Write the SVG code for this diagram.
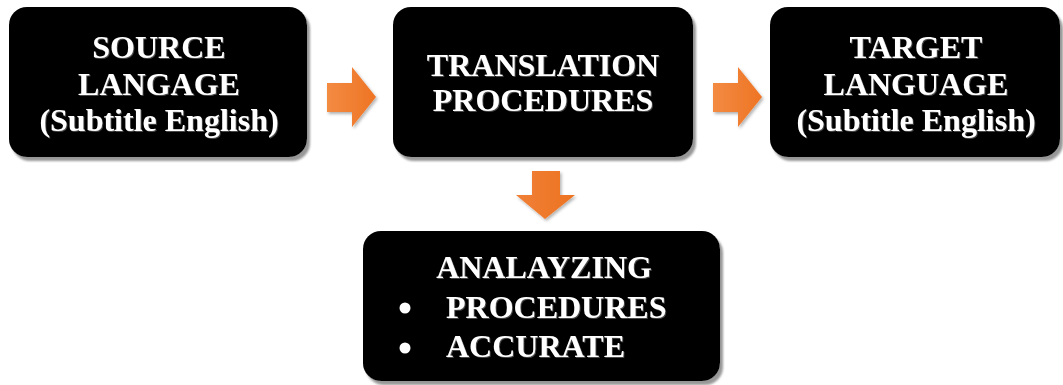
<svg xmlns="http://www.w3.org/2000/svg" width="1063" height="385" viewBox="0 0 1063 385">
  <defs>
    <filter id="boxShadow" x="-5%" y="-5%" width="115%" height="120%">
      <feDropShadow dx="3" dy="4" stdDeviation="0.8" flood-color="#8c8c8c" flood-opacity="0.9"/>
    </filter>
    <filter id="arrowShadow" x="-20%" y="-20%" width="150%" height="150%">
      <feDropShadow dx="1.5" dy="2" stdDeviation="1.5" flood-color="#000" flood-opacity="0.3"/>
    </filter>
    <filter id="textShadow" x="-5%" y="-20%" width="110%" height="140%">
      <feDropShadow dx="1" dy="1" stdDeviation="0.5" flood-color="#666" flood-opacity="0.7"/>
    </filter>
    <linearGradient id="orangeH" x1="0" y1="0" x2="1" y2="0">
      <stop offset="0" stop-color="#f38b42"/>
      <stop offset="1" stop-color="#ee7424"/>
    </linearGradient>
    <linearGradient id="orangeV" x1="0" y1="0" x2="1" y2="0">
      <stop offset="0" stop-color="#f08036"/>
      <stop offset="1" stop-color="#ed7322"/>
    </linearGradient>
  </defs>
  <style>
    .box { fill: #000; filter: url(#boxShadow); }
    .label { font-family: "Liberation Serif", "Times New Roman", serif; font-weight: bold; font-size: 32px; fill: #fff; filter: url(#textShadow); }
    .mid { text-anchor: middle; }
    .bullet { fill: #fff; }
  </style>

  <!-- connectors: block arrows between the stages -->
  <g id="connectors" filter="url(#arrowShadow)">
    <polygon points="327,83 352,83 352,67 376,97 352,127 352,112 327,112" fill="url(#orangeH)"/>
    <polygon points="713,83 738,83 738,67 762,97 738,127 738,112 713,112" fill="url(#orangeH)"/>
    <polygon points="532,171 560,171 560,195 575,195 545,219 516,195 532,195" fill="url(#orangeV)"/>
  </g>

  <g id="source">
    <rect class="box" x="9" y="7" width="298" height="150" rx="18"/>
    <text class="label mid" x="159" y="58">SOURCE</text>
    <text class="label mid" x="159" y="95">LANGAGE</text>
    <text class="label mid" x="159" y="131">(Subtitle English)</text>
  </g>

  <g id="translation">
    <rect class="box" x="393" y="7" width="300" height="150" rx="18"/>
    <text class="label mid" x="543" y="76">TRANSLATION</text>
    <text class="label mid" x="543" y="111">PROCEDURES</text>
  </g>

  <g id="target">
    <rect class="box" x="770" y="7" width="290" height="150" rx="18"/>
    <text class="label mid" x="916" y="58">TARGET</text>
    <text class="label mid" x="916" y="95">LANGUAGE</text>
    <text class="label mid" x="916" y="131">(Subtitle English)</text>
  </g>

  <g id="analyzing">
    <rect class="box" x="363" y="231" width="357" height="150" rx="18"/>
    <text class="label mid" x="544" y="278">ANALAYZING</text>
    <circle class="bullet" cx="405" cy="308" r="5.5"/>
    <text class="label" x="446" y="318">PROCEDURES</text>
    <circle class="bullet" cx="405" cy="348" r="5.5"/>
    <text class="label" x="446" y="357">ACCURATE</text>
  </g>
</svg>
